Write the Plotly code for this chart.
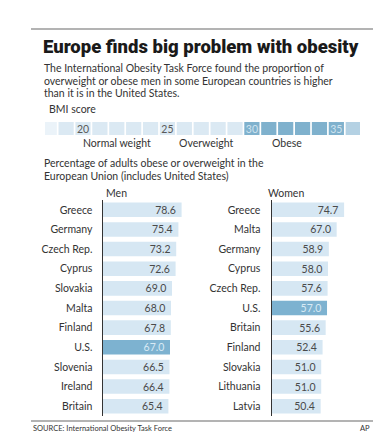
import plotly.graph_objects as go

W, H = 374, 440

men_countries = ["Greece", "Germany", "Czech Rep.", "Cyprus", "Slovakia", "Malta",
                 "Finland", "U.S.", "Slovenia", "Ireland", "Britain"]
men_values = [78.6, 75.4, 73.2, 72.6, 69.0, 68.0, 67.8, 67.0, 66.5, 66.4, 65.4]

women_countries = ["Greece", "Malta", "Germany", "Cyprus", "Czech Rep.", "U.S.",
                   "Britain", "Finland", "Slovakia", "Lithuania", "Latvia"]
women_values = [74.7, 67.0, 58.9, 58.0, 57.6, 57.0, 55.6, 52.4, 51.0, 51.0, 50.4]

bmi_values = list(range(18, 37))
bmi_tick_labels = {20: "20", 25: "25", 30: "30", 35: "35"}
bmi_categories = ["Normal weight", "Overweight", "Obese"]
bmi_category_centers = [22.0, 27.3, 32.1]

LIGHT = "#d6e7f3"
HIGHLIGHT = "#7db2d0"
BODY_FONT = "Lato, 'Open Sans', sans-serif"
TEXT_COL = "#333333"
NBSP = "\u00a0"


def px(x):
    return x / W


def py(y):
    return 1 - y / H


fig = go.Figure()

# Men bars
fig.add_trace(go.Bar(
    x=men_values, y=men_countries, orientation="h",
    marker=dict(color=[HIGHLIGHT if c == "U.S." else LIGHT for c in men_countries], line_width=0),
    text=[f"{v:.1f}{NBSP}" for v in men_values], textposition="inside", insidetextanchor="end",
    constraintext="none",
    textfont=dict(family=BODY_FONT, size=10.5,
                  color=["#d8eaf5" if c == "U.S." else "#4a4a4a" for c in men_countries]),
    xaxis="x", yaxis="y", hoverinfo="skip",
))

# Women bars
fig.add_trace(go.Bar(
    x=women_values, y=women_countries, orientation="h",
    marker=dict(color=[HIGHLIGHT if c == "U.S." else LIGHT for c in women_countries], line_width=0),
    text=[f"{v:.1f}{NBSP}" for v in women_values], textposition="inside", insidetextanchor="end",
    constraintext="none",
    textfont=dict(family=BODY_FONT, size=10.5,
                  color=["#d8eaf5" if c == "U.S." else "#4a4a4a" for c in women_countries]),
    xaxis="x2", yaxis="y2", hoverinfo="skip",
))


def bmi_color(b):
    if b == 18:
        return "#ebf3f9"
    if b == 36:
        return "#b4d1e3"
    return "#dbe9f3" if b < 30 else "#7fb1cd"


fig.add_trace(go.Bar(
    x=bmi_values, y=[1] * len(bmi_values), width=0.9,
    marker=dict(color=[bmi_color(b) for b in bmi_values], line_width=0),
    text=[bmi_tick_labels.get(b, "") for b in bmi_values],
    textposition="inside", insidetextanchor="middle", textangle=0, constraintext="none",
    textfont=dict(family=BODY_FONT, size=10.5,
                  color=["#5a5a5a" if b < 30 else "#cfe3ef" for b in bmi_values]),
    xaxis="x3", yaxis="y3", hoverinfo="skip",
))

# BMI category labels placed on the BMI axis
for name, c in zip(bmi_categories, bmi_category_centers):
    fig.add_annotation(x=c, y=py(143), xref="x3", yref="paper", text=name, showarrow=False,
                       xanchor="center", yanchor="middle",
                       font=dict(family=BODY_FONT, size=10.5, color=TEXT_COL))

ylab_font = dict(family=BODY_FONT, size=10.5, color=TEXT_COL)

fig.update_layout(
    width=W, height=H,
    margin=dict(l=0, r=0, t=0, b=0),
    paper_bgcolor="white", plot_bgcolor="white",
    showlegend=False,
    hovermode=False,
    bargap=0.26,
    xaxis=dict(domain=[px(103), px(203)], range=[0, 100], visible=False, fixedrange=True),
    yaxis=dict(domain=[py(416), py(200)], range=[10.5, -0.5], type="category",
               showline=True, linecolor="#333333", linewidth=1.5,
               showgrid=False, zeroline=False, ticks="", ticklabelstandoff=7,
               tickfont=ylab_font, anchor="x"),
    xaxis2=dict(domain=[px(272), px(372)], range=[0, 103.6], visible=False, anchor="y2"),
    yaxis2=dict(domain=[py(416), py(200)], range=[10.5, -0.5], type="category",
                showline=True, linecolor="#333333", linewidth=1.5,
                showgrid=False, zeroline=False, ticks="", ticklabelstandoff=8,
                tickfont=ylab_font, anchor="x2"),
    xaxis3=dict(domain=[px(45), px(360)], range=[17.75, 36.4], visible=False, anchor="y3"),
    yaxis3=dict(domain=[py(135), py(122)], range=[0, 1], visible=False, anchor="x3"),
)

# Rules
fig.add_shape(type="line", xref="paper", yref="paper", x0=px(31), x1=px(373), y0=py(29), y1=py(29),
              line=dict(color="#9a9a9a", width=1.5))
fig.add_shape(type="line", xref="paper", yref="paper", x0=px(31), x1=px(373), y0=py(421), y1=py(421),
              line=dict(color="#9a9a9a", width=1.5))


def note(x, y, text, size=10.5, color=TEXT_COL, anchor="left", family=BODY_FONT, weight=None):
    font = dict(family=family, size=size, color=color)
    if weight:
        font["weight"] = weight
    fig.add_annotation(x=px(x), y=py(y), xref="paper", yref="paper", text=text, showarrow=False,
                       xanchor=anchor, yanchor="middle", align=anchor, font=font)


note(41, 47, "Europe finds big problem with obesity", size=18.5, color="#1a1a1a",
     family="Roboto, 'Liberation Sans', sans-serif", weight=900)
note(42, 68, "The International Obesity Task Force found the proportion of")
note(42, 81, "overweight or obese men in some European countries is higher")
note(42, 93, "than it is in the United States.")
note(47, 109, "BMI score")
note(42, 163, "Percentage of adults obese or overweight in the")
note(42, 176, "European Union (includes United States)")
note(104, 193, "Men")
note(266, 193, "Women")
note(31, 428, "SOURCE: International Obesity Task Force", size=7.5)
note(372, 428, "AP", size=7.5, anchor="right")

fig.write_html("out.html", config={"displayModeBar": False, "staticPlot": True},
               post_script="document.body.style.margin='0';")
